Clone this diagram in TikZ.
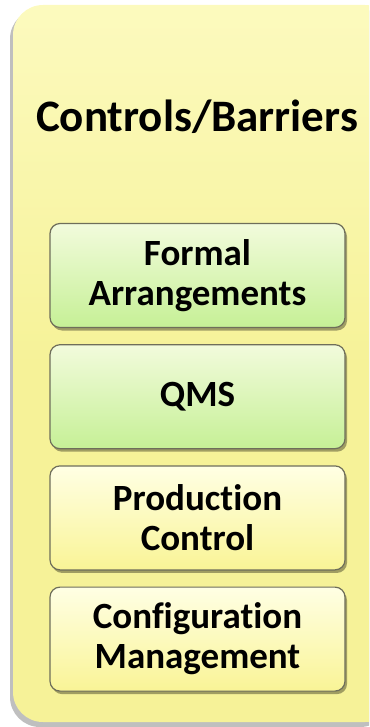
\documentclass[tikz,border=0pt]{standalone}
\usepackage{fontspec}
\setmainfont{Carlito}[Ligatures=NoCommon]
\usetikzlibrary{positioning,shadows}

\definecolor{outerfill}{RGB}{246,242,152}
\definecolor{outertop}{RGB}{252,250,190}
\definecolor{greentop}{RGB}{242,251,220}
\definecolor{greenbot}{RGB}{198,240,150}
\definecolor{yellowtop}{RGB}{255,255,228}
\definecolor{yellowbot}{RGB}{249,244,150}
\definecolor{boxline}{RGB}{110,110,90}

\begin{document}
\begin{tikzpicture}[
  x=1pt, y=-1pt,
  barrier/.style={draw=boxline, line width=1.2pt, rounded corners=10pt,
    minimum width=295pt, minimum height=104pt, align=center,
    font=\fontsize{37}{40}\selectfont\bfseries,
    drop shadow={shadow xshift=2pt, shadow yshift=-3pt, fill=black, opacity=0.35}},
  green box/.style={barrier, top color=greentop, bottom color=greenbot},
  yellow box/.style={barrier, top color=yellowtop, bottom color=yellowbot}
]
  \useasboundingbox (0,0) rectangle (369,727);
  \clip (0,0) rectangle (369,727);

  % Outer panel
  \fill[black!25, rounded corners=30pt] (10,9) rectangle (390,727);
  \shade[rounded corners=30pt, top color=outertop, bottom color=outerfill,
    middle color=outerfill] (13,5) rectangle (395,722);
  \node[font=\fontsize{45}{48}\selectfont\bfseries] (title) at (197,117) {Controls/Barriers};

  % Control boxes
  \node[green box] (formal) at (197.5,275.5) {Formal\\Arrangements};
  \node[green box, below=16pt of formal] (qms) {QMS};
  \node[yellow box, below=16pt of qms] (prod) {Production\\Control};
  \node[yellow box, below=16pt of prod] (config) {Configuration\\Management};
\end{tikzpicture}
\end{document}
